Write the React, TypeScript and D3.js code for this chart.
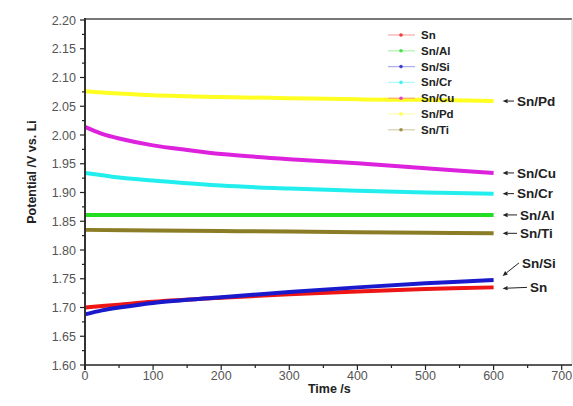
import React from "react";
import * as d3 from "d3";

const seriesNames = ["Sn", "Sn/Al", "Sn/Si", "Sn/Cr", "Sn/Cu", "Sn/Pd", "Sn/Ti"];
const seriesColors = ["#ee1515", "#22dd22", "#1a1acc", "#22eeee", "#dd22dd", "#ffff22", "#8b7d25"];

const snData: [number, number][] = [[0, 1.700], [50, 1.705], [100, 1.710], [200, 1.717], [300, 1.723], [400, 1.728], [500, 1.732], [600, 1.735]];
const snAlData: [number, number][] = [[0, 1.861], [300, 1.861], [600, 1.861]];
const snSiData: [number, number][] = [[0, 1.688], [25, 1.695], [50, 1.700], [100, 1.708], [200, 1.718], [300, 1.727], [400, 1.735], [500, 1.742], [600, 1.748]];
const snCrData: [number, number][] = [[0, 1.934], [25, 1.930], [50, 1.926], [100, 1.921], [200, 1.912], [300, 1.907], [400, 1.903], [500, 1.900], [600, 1.898]];
const snCuData: [number, number][] = [[0, 2.014], [25, 2.002], [50, 1.994], [100, 1.982], [150, 1.974], [200, 1.967], [300, 1.958], [400, 1.951], [500, 1.942], [600, 1.934]];
const snPdData: [number, number][] = [[0, 2.076], [50, 2.072], [100, 2.069], [200, 2.066], [300, 2.064], [400, 2.062], [500, 2.061], [600, 2.059]];
const snTiData: [number, number][] = [[0, 1.835], [100, 1.834], [200, 1.833], [300, 1.832], [400, 1.831], [500, 1.830], [600, 1.829]];

const allData = [snData, snAlData, snSiData, snCrData, snCuData, snPdData, snTiData];

const xTicks = [0, 100, 200, 300, 400, 500, 600, 700];
const yTicks = [1.6, 1.65, 1.7, 1.75, 1.8, 1.85, 1.9, 1.95, 2.0, 2.05, 2.1, 2.15, 2.2];

const annotations = [
  { i: 5, text: "Sn/Pd", ay: 0, ty: 0, tx: 517 },
  { i: 4, text: "Sn/Cu", ay: 0, ty: 0, tx: 517 },
  { i: 3, text: "Sn/Cr", ay: 0, ty: 0, tx: 517 },
  { i: 1, text: "Sn/Al", ay: 0, ty: 0, tx: 520 },
  { i: 6, text: "Sn/Ti", ay: 0, ty: 0, tx: 520 },
  { i: 2, text: "Sn/Si", ay: -4, ty: -13, tx: 522 },
  { i: 0, text: "Sn", ay: 1, ty: -1, tx: 530 },
];

export default function App() {
  const W = 573, H = 406;
  const left = 85, top = 20, bottom = 365;
  const x = d3.scaleLinear().domain([0, 700]).range([left, 561.7]);
  const y = d3.scaleLinear().domain([1.6, 2.2]).range([bottom, top]);
  const right = 572;
  const line = d3.line<[number, number]>().x(d => x(d[0])).y(d => y(d[1])).curve(d3.curveCatmullRom.alpha(0.5));
  const font = "Arial, 'Liberation Sans', sans-serif";

  const minorX = d3.range(50, 701, 100);
  const minorY = d3.range(1.625, 2.2, 0.05);

  return (
    <svg width={W} height={H} style={{ position: "absolute", left: 0, top: 0, background: "#fff" }} fontFamily={font}>
      <rect x={0} y={0} width={W} height={H} fill="#fff" />
      <line x1={left} x2={right} y1={top - 1} y2={top - 1} stroke="#777" strokeWidth={2} />
      <line x1={right} x2={right} y1={top - 1} y2={bottom} stroke="#ccc" strokeWidth={1} />
      {allData.map((d, i) => (
        <path key={i} d={line(d) || ""} fill="none" stroke={seriesColors[i]} strokeWidth={4} />
      ))}
      <line x1={left} x2={right} y1={bottom} y2={bottom} stroke="#222" strokeWidth={1.5} />
      <line x1={left} x2={left} y1={top - 2} y2={bottom + 5} stroke="#333" strokeWidth={2} />
      {xTicks.map(t => (
        <g key={"xt" + t}>
          <line x1={x(t)} x2={x(t)} y1={bottom} y2={bottom + 5} stroke="#222" strokeWidth={1.2} />
          <text x={x(t)} y={bottom + 14.5} textAnchor="middle" fontSize={12.5} fill="#555">{t}</text>
        </g>
      ))}
      {minorX.map(t => (
        <line key={"xm" + t} x1={x(t)} x2={x(t)} y1={bottom} y2={bottom + 3} stroke="#222" strokeWidth={1.2} />
      ))}
      {yTicks.map(t => (
        <g key={"yt" + t}>
          <line x1={left - 5} x2={left} y1={y(t)} y2={y(t)} stroke="#222" strokeWidth={1.2} />
          <text x={left - 9} y={y(t) + 4.5} textAnchor="end" fontSize={12.5} fill="#555">{t.toFixed(2)}</text>
        </g>
      ))}
      {minorY.map(t => (
        <line key={"ym" + t} x1={left - 3} x2={left} y1={y(t)} y2={y(t)} stroke="#222" strokeWidth={1.2} />
      ))}
      <text x={(left + 561.7) / 2 + 6} y={393} textAnchor="middle" fontSize={12.5} fontWeight="bold" fill="#222">Time /s</text>
      <text transform={`translate(36, 172) rotate(-90)`} textAnchor="middle" fontSize={12.5} fontWeight="bold" fill="#222">Potential /V vs. Li</text>
      {seriesNames.map((n, i) => {
        const ly = 35 + i * 15.8;
        return (
          <g key={"lg" + n}>
            <line x1={388} x2={415} y1={ly} y2={ly} stroke={seriesColors[i]} strokeOpacity={0.35} strokeWidth={1.3} />
            <circle cx={401} cy={ly} r={1.8} fill={seriesColors[i]} fillOpacity={0.8} />
            <text x={421} y={ly + 4} fontSize={11.5} fontWeight="bold" fill="#222">{n}</text>
          </g>
        );
      })}
      {annotations.map(a => {
        const d = allData[a.i];
        const last = d[d.length - 1];
        const ly = y(last[1]) + a.ay;
        const ax = x(600) + 9;
        const tyy = ly + a.ty;
        const tailX = a.tx - 3;
        const ang = Math.atan2(tyy - ly, tailX - ax);
        const hl = 5, hw = 2.2;
        const bx = ax + hl * Math.cos(ang), by = ly + hl * Math.sin(ang);
        const nx = -Math.sin(ang) * hw, ny = Math.cos(ang) * hw;
        return (
          <g key={"an" + a.text}>
            <line x1={bx} y1={by} x2={tailX} y2={tyy} stroke="#222" strokeWidth={1} />
            <polygon points={`${ax},${ly} ${bx + nx},${by + ny} ${bx - nx},${by - ny}`} fill="#222" />
            <text x={a.tx} y={tyy + 4.8} fontSize={13.5} fontWeight="bold" fill="#222">{a.text}</text>
          </g>
        );
      })}
    </svg>
  );
}
